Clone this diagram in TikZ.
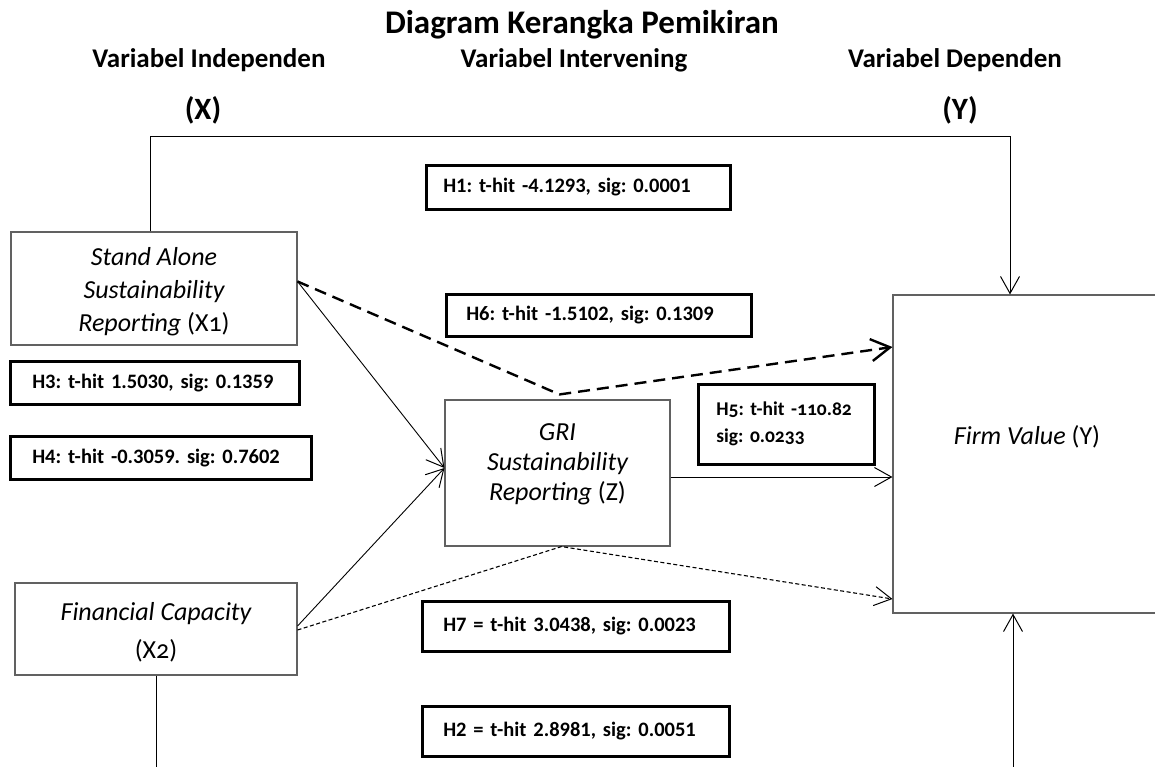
\documentclass[tikz,border=0pt]{standalone}
\usepackage{fontspec}
\setmainfont{Carlito}
\newfontfamily\oldnum{Carlito}[Numbers=OldStyle]
\usetikzlibrary{arrows.meta,calc}
\begin{document}
\begin{tikzpicture}[x=1pt,y=-1pt,
  mainbox/.style={draw=black!62,line width=1.1pt,inner sep=0pt,align=center,
    font=\frenchspacing\fontsize{26}{33}\selectfont\itshape},
  boxtext/.style={inner sep=0pt,align=center,font=\frenchspacing\fontsize{26}{30}\selectfont\itshape},
  hbox/.style={draw=black,line width=2.6pt,anchor=north west,align=left,inner ysep=0pt,
    font=\frenchspacing\bfseries\fontsize{20.5}{27}\selectfont},
  head/.style={anchor=base,inner sep=0pt,font=\bfseries\fontsize{27}{30}\selectfont},
  conn/.style={line width=0.9pt,draw=black},
  arr/.style={-{Straight Barb[length=17pt,width=19pt,line width=1pt]}},
  thickdash/.style={line width=2.4pt,dash pattern=on 12pt off 7pt,
    -{Straight Barb[length=19pt,width=22pt,line width=2.4pt]}},
  thindash/.style={line width=1.1pt,dash pattern=on 4pt off 2.5pt,
    -{Straight Barb[length=17pt,width=19pt,line width=1pt]}}]
\useasboundingbox (0,0) rectangle (1155,767);
\clip (0,0) rectangle (1155,767);

% headings
\node[head,font=\bfseries\fontsize{33}{36}\selectfont] (title) at (582,34) {Diagram Kerangka Pemikiran};
\node[head] (hx) at (209,68) {Variabel Independen};
\node[head] (hz) at (574,68) {Variabel Intervening};
\node[head] (hy) at (955,68) {Variabel Dependen};
\node[head,font=\bfseries\fontsize{31}{34}\selectfont] (lx) at (203,120) {(X)};
\node[head,font=\bfseries\fontsize{31}{34}\selectfont] (ly) at (960,120) {(Y)};

% main boxes
\node[mainbox,minimum width=286pt,minimum height=113pt] (sa) at (154,288.5) {};
\node[boxtext,font=\frenchspacing\fontsize{26}{33}\selectfont\itshape] (sat) at (154,291.5)
  {Stand Alone\\Sustainability\\Reporting {\upshape(X{\oldnum 1})}};
\node[mainbox,minimum width=225pt,minimum height=146pt] (gri) at (557.5,473) {};
\node[boxtext] (grit) at (557.5,464) {GRI\\Sustainability\\Reporting {\upshape(Z)}};
\node[mainbox,minimum width=282pt,minimum height=92pt] (fc) at (156,629) {};
\node[boxtext] (fct) at (156,632)
  {Financial Capacity\\[8pt]{\upshape(X{\oldnum 2})}};
\node[mainbox,minimum width=267pt,minimum height=318pt] (fv) at (1026.5,454) {};
\node[boxtext] (fvt) at (1027,437) {Firm Value {\upshape(Y)}};

% hypothesis boxes
\node[hbox,inner xsep=17pt,text width=270pt,minimum height=44pt] (h1) at (425,164)
  {H1: t-hit -4.1293, sig: 0.0001};
\node[hbox,inner xsep=20pt,text width=265pt,minimum height=42pt] (h6) at (445,293)
  {H6: t-hit -1.5102, sig: 0.1309};
\node[hbox,inner xsep=22pt,text width=245pt,minimum height=43pt] (h3) at (9,360)
  {H3: t-hit 1.5030, sig: 0.1359};
\node[hbox,inner xsep=22pt,text width=257pt,minimum height=43pt] (h4) at (9,435)
  {H4: t-hit -0.3059. sig: 0.7602};
\node[hbox,inner xsep=18pt,text width=140pt,minimum height=80pt,
  font=\frenchspacing\bfseries\fontsize{19.5}{27}\selectfont] (h5) at (697,383)
  {\oldnum H5: t-hit -110.82\\sig: 0.0233};
\node[hbox,inner xsep=21pt,text width=265pt,minimum height=50pt] (h7) at (421,600)
  {H7 = t-hit 3.0438, sig: 0.0023};
\node[hbox,inner xsep=21pt,text width=265pt,minimum height=50pt] (h2) at (421,705)
  {H2 = t-hit 2.8981, sig: 0.0051};

% connectors
\coordinate (tr) at (1010,136);
\coordinate (bl) at (151,767);
\coordinate (br) at (1013,767);
\coordinate (saout) at ($(sa.east)+(0,-7)$);
\coordinate (fcout) at ($(fc.east)+(0,1)$);
\coordinate (griin) at ($(gri.west)+(0,-5)$);
\coordinate (apex1) at ($(gri.north)+(2,-5)$);
\coordinate (apex2) at ($(gri.south)+(4,0)$);

\draw[conn,arr] ([xshift=-4pt]sa.north) |- (tr) -- (tr |- fv.north);
\draw[conn] (fc.south) -- (fc.south |- bl);
\draw[conn,arr] (br) -- (br |- fv.south);
\draw[conn,arr] (saout) -- (griin);
\draw[conn,arr] ($(fc.east)+(0,-3)$) -- (griin);
\draw[thickdash] (saout) -- (apex1) -- ($(fv.west)+(0,-107)$);
\draw[thindash] (fcout) -- (apex2) -- ($(fv.west)+(0,145)$);
\draw[conn,arr] ($(gri.east)+(0,4)$) -- ($(fv.west)+(0,23)$);
\end{tikzpicture}
\end{document}
